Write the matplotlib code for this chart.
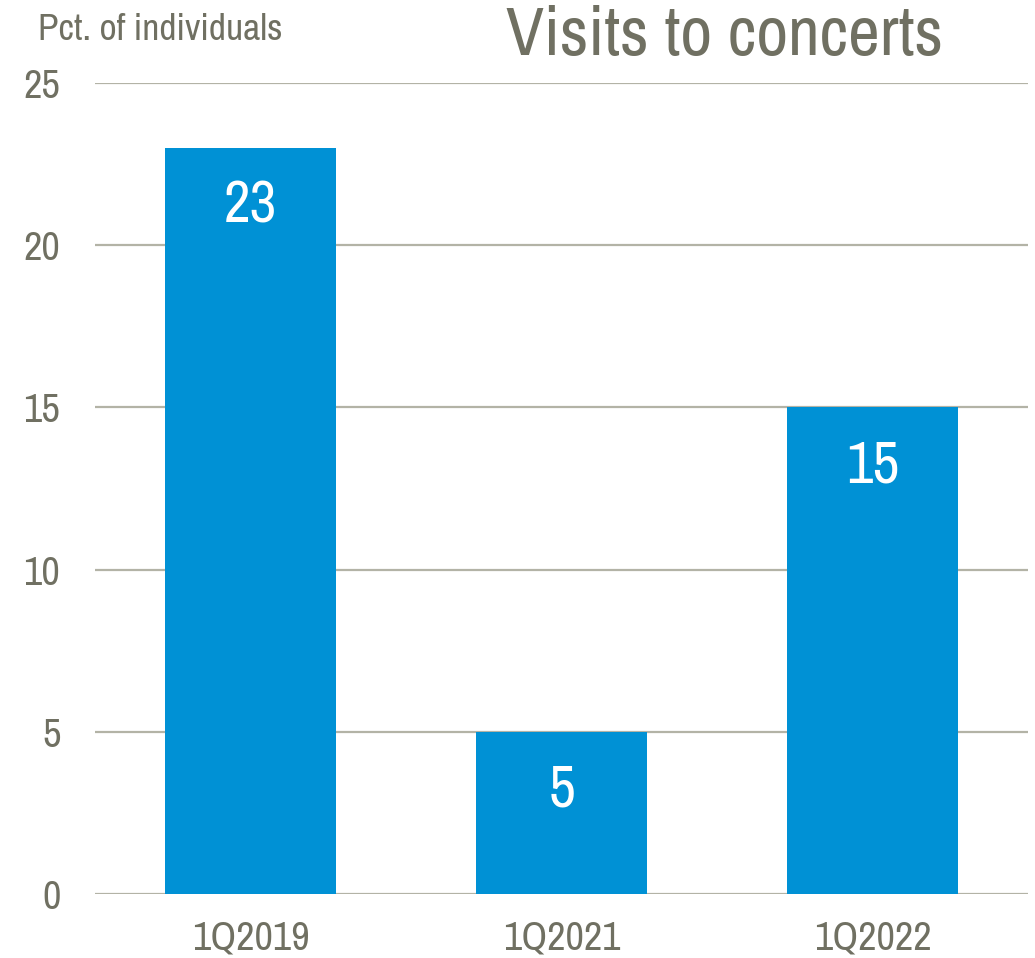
import matplotlib
matplotlib.use("Agg")
import matplotlib.pyplot as plt

# ----------------------------
# Data
# ----------------------------
quarters = ["1Q2019", "1Q2021", "1Q2022"]
pct_visits = [23, 5, 15]
y_ticks = [0, 5, 10, 15, 20, 25]

bar_color = "#0091D5"
text_color = "#707062"
grid_color = "#B3B3A6"

plt.rcParams["font.family"] = ["Archivo Narrow", "Liberation Sans", "DejaVu Sans"]

# ----------------------------
# Plot
# ----------------------------
fig = plt.figure(figsize=(10.35, 9.58), dpi=100)
ax = fig.add_axes([95 / 1035, 64 / 958, 933 / 1035, 811 / 958])

x = range(len(quarters))
bars = ax.bar(x, pct_visits, width=0.547, color=bar_color, zorder=3)

ax.set_xlim(-0.5, len(quarters) - 0.5)
ax.set_ylim(0, 25)
ax.set_yticks(y_ticks)
ax.set_xticks(list(x))
ax.set_xticklabels(quarters)

ax.grid(axis="y", color=grid_color, linewidth=1.6, zorder=1)
for side in ["top", "right", "left", "bottom"]:
    ax.spines[side].set_visible(False)
ax.tick_params(axis="both", length=0, labelsize=29, colors=text_color)
ax.tick_params(axis="y", pad=25)
ax.tick_params(axis="x", pad=18)

# value labels inside the bars
for rect, val in zip(bars, pct_visits):
    ax.annotate(str(val),
                xy=(rect.get_x() + rect.get_width() / 2, val),
                xytext=(0, -42), textcoords="offset points",
                ha="center", va="center", color="white", fontsize=42, zorder=4)

fig.text(38 / 1035, 1 - 30 / 958, "Pct. of individuals", ha="left", va="center",
         color=text_color, fontsize=27)
fig.text(724 / 1035, 1 - 36 / 958, "Visits to concerts", ha="center", va="center",
         color=text_color, fontsize=50)

fig.savefig("out.png", dpi=100)
